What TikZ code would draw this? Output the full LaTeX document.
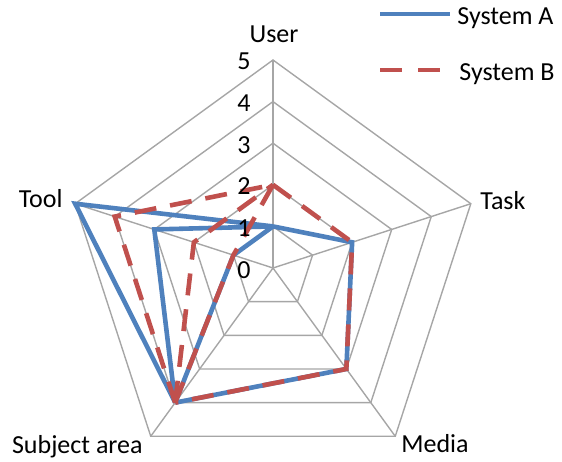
\documentclass[tikz,border=0pt]{standalone}
\usepackage{fontspec}
\setmainfont{Carlito}
\usetikzlibrary{positioning}
\definecolor{blueA}{HTML}{4F81BD}
\definecolor{redB}{HTML}{C0504D}
\definecolor{web}{HTML}{A6A6A6}
\tikzset{
    ring/.style =       {draw=web,
                        line width=0.7pt},
    spoke/.style =      {draw=web,
                        line width=0.7pt},
    sysA/.style =       {draw=blueA,
                        line width=2.3pt},
    sysB/.style =       {draw=redB,
                        line width=2.3pt,
                        dash pattern=on 11pt off 7pt},
    axis label/.style = {inner sep=0pt,
                        text=black},
    tick/.style =       {inner sep=0pt,
                        anchor=base east,
                        text=black},
    key/.style =        {inner sep=0pt,
                        anchor=base west,
                        text=black}}

\begin{document}
\begin{tikzpicture}[x=0.5pt,y=0.5pt,font=\fontsize{13}{15}\selectfont]
    \useasboundingbox (-273,-193) rectangle (289,268);
    \coordinate (O) at (0,0);
    \foreach \ax/\ang in {User/90,Task/18,Media/-54,Subject/-126,Tool/162}
        \foreach \r in {0,...,5}
            \coordinate (\ax-\r) at (\ang:\r*41.6);
    % web
    \foreach \r in {1,...,5}
        \draw[ring] (User-\r) -- (Task-\r) -- (Media-\r) -- (Subject-\r) -- (Tool-\r) -- cycle;
    \foreach \ax in {User,Task,Media,Subject,Tool}
        \draw[spoke] (O) -- (\ax-5);
    % system A
    \draw[sysA] (User-1) -- (Task-2) -- (Media-3) -- (Subject-4);
    \foreach \t in {5,3,1}
        \draw[sysA] (Subject-4) -- (Tool-\t) -- (User-1);
    % system B
    \draw[sysB] (User-2) -- (Task-2) -- (Media-3) -- (Subject-4);
    \foreach \t in {4,2,1}
        \draw[sysB] (Subject-4) -- (Tool-\t) -- (User-2);
    % scale
    \foreach \r in {0,...,5}
        \node[tick] (n\r) at (-22,\r*41.6-10) {\r};
    % axis names
    \node[axis label, anchor=base]      (user)    at (1,225)     {User};
    \node[axis label, anchor=base west] (task)    at (207,59)    {Task};
    \node[axis label, anchor=base west] (media)   at (128,-184)  {Media};
    \node[axis label, anchor=base east] (subject) at (-130,-185) {Subject area};
    \node[axis label, anchor=base east] (tool)    at (-210,61)   {Tool};
    % legend
    \coordinate (a0) at (107,254);
    \coordinate (a1) at (177,254);
    \coordinate (b0) at (107,198);
    \coordinate (b1) at (167,198);
    \draw[sysA] (a0) -- (a1);
    \draw[sysB, dash pattern=on 11pt off 8pt] (b0) -- (b1);
    \node[key] (keyA) at (184,243) {System A};
    \node[key] (keyB) at (186,187) {System B};
\end{tikzpicture}
\end{document}
